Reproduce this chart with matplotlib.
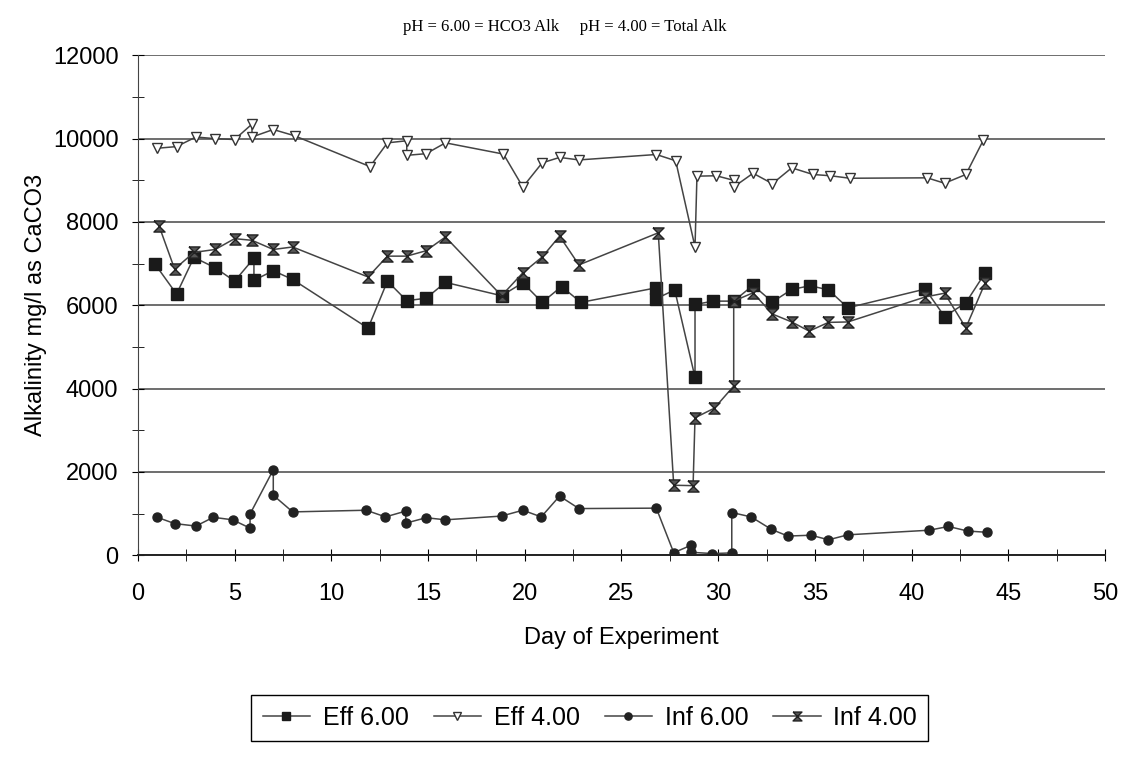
#Alkalinity over the experiment
#plots influent and effluent alkalinity at pH 6.00 and pH 4.00 end points
import matplotlib
matplotlib.use('Agg')
import matplotlib.pyplot as plt
from matplotlib.ticker import MultipleLocator

plt.rcParams['font.family'] = ['Liberation Sans', 'DejaVu Sans']

#data
eff6_days = [0.9, 2.0, 2.9, 4.0, 5.0, 6.0, 6.0, 7.0, 8.0, 11.9, 12.9, 13.9, 14.9, 15.9,
             18.8, 19.9, 20.9, 21.9, 22.9, 26.8, 26.8, 27.75, 28.8, 28.8, 29.75, 30.8,
             31.8, 32.8, 33.8, 34.75, 35.7, 36.7, 40.7, 41.7, 42.8, 43.8]
eff6_vals = [6980, 6270, 7150, 6900, 6580, 7130, 6600, 6830, 6620, 5450, 6580, 6110, 6170, 6550,
             6230, 6540, 6070, 6450, 6070, 6420, 6160, 6370, 4270, 6020, 6100, 6100,
             6480, 6080, 6380, 6470, 6370, 5940, 6390, 5730, 6060, 6780]

eff4_days = [1.0, 2.0, 3.0, 4.0, 5.0, 5.9, 5.9, 7.0, 8.1, 12.0, 12.9, 13.9, 13.9, 14.9, 15.9,
             18.9, 19.9, 20.9, 21.8, 22.8, 26.8, 27.8, 28.8, 28.9, 29.9, 30.8, 30.8,
             31.8, 32.8, 33.8, 34.9, 35.8, 36.8, 40.8, 41.7, 42.8, 43.7]
eff4_vals = [9770, 9810, 10040, 10000, 9980, 10350, 10040, 10220, 10070, 9330, 9900, 9950, 9600,
             9640, 9900, 9630, 8840, 9420, 9550, 9490, 9620, 9470, 7400, 9100, 9110, 9000,
             8840, 9170, 8920, 9300, 9140, 9110, 9050, 9060, 8930, 9140, 9960]

inf6_days = [1.0, 1.9, 3.0, 3.9, 4.9, 5.8, 5.8, 7.0, 7.0, 8.0, 11.8, 12.8, 13.85, 13.85,
             14.9, 15.9, 18.8, 19.9, 20.85, 21.8, 22.8, 26.8, 27.7, 28.6, 28.6, 29.7,
             30.7, 30.7, 31.7, 32.75, 33.6, 34.8, 35.7, 36.7, 40.9, 41.9, 42.9, 43.9]
inf6_vals = [910, 760, 700, 910, 850, 650, 990, 2050, 1440, 1040, 1080, 920, 1060, 770,
             900, 850, 940, 1080, 920, 1420, 1120, 1130, 60, 240, 70, 40,
             55, 1025, 920, 620, 460, 480, 370, 490, 600, 690, 580, 550]

inf4_days = [1.1, 1.9, 2.9, 4.0, 5.0, 5.9, 7.0, 8.0, 11.9, 12.9, 13.9, 14.9, 15.9, 18.8,
             19.9, 20.9, 21.8, 22.8, 26.9, 27.7, 28.7, 28.8, 29.8, 30.8, 30.8, 31.8,
             32.8, 33.8, 34.7, 35.7, 36.7, 40.7, 41.7, 42.8, 43.8]
inf4_vals = [7900, 6870, 7270, 7340, 7600, 7560, 7340, 7400, 6680, 7180, 7180, 7310, 7640, 6230,
             6780, 7160, 7660, 6970, 7740, 1680, 1670, 3300, 3530, 4060, 6100, 6300,
             5790, 5600, 5380, 5590, 5600, 6200, 6290, 5460, 6540]

#hourglass shaped marker
hourglass = [(-1, 1), (1, 1), (-1, -1), (1, -1), (-1, 1)]

fig = plt.figure(figsize=(11.3, 7.69), dpi=100)
ax = fig.add_axes([0.122, 0.278, 0.856, 0.650])

line_col = '#444444'
ax.plot(eff6_days, eff6_vals, color=line_col, lw=1.1, marker='s', markersize=8,
        markerfacecolor='#1a1a1a', markeredgecolor='#1a1a1a', label='Eff 6.00', zorder=4)
ax.plot(eff4_days, eff4_vals, color=line_col, lw=1.1, marker='v', markersize=7,
        markerfacecolor='white', markeredgecolor='#333333', label='Eff 4.00', zorder=4)
ax.plot(inf6_days, inf6_vals, color=line_col, lw=1.1, marker='o', markersize=6.5,
        markerfacecolor='#222222', markeredgecolor='#222222', label='Inf 6.00', zorder=4)
ax.plot(inf4_days, inf4_vals, color=line_col, lw=1.1, marker=hourglass, markersize=8,
        markerfacecolor='#555555', markeredgecolor='#222222', label='Inf 4.00', zorder=4)

#axes limits and ticks
ax.set_xlim(0, 50)
ax.set_ylim(0, 12000)
ax.xaxis.set_major_locator(MultipleLocator(5))
ax.xaxis.set_minor_locator(MultipleLocator(2.5))
ax.yaxis.set_major_locator(MultipleLocator(2000))
ax.yaxis.set_minor_locator(MultipleLocator(1000))
ax.tick_params(axis='x', which='both', direction='inout', length=8, pad=16, labelsize=17)
ax.tick_params(axis='y', which='both', direction='inout', length=8, pad=10, labelsize=17)

#grid
ax.grid(True, axis='y', color='#555555', lw=1.2)
ax.set_axisbelow(True)
for side in ['top', 'right']:
    ax.spines[side].set_visible(False)
ax.spines['left'].set_color('#444444')
ax.spines['bottom'].set_color('#222222')
ax.spines['bottom'].set_linewidth(1.4)

#labels
ax.set_xlabel('Day of Experiment', fontsize=17, labelpad=16)
ax.set_ylabel('Alkalinity mg/l as CaCO3', fontsize=17, labelpad=4)
fig.text(0.50, 0.965, 'pH = 6.00 = HCO3 Alk     pH = 4.00 = Total Alk',
         ha='center', va='center', fontsize=12, family='Liberation Serif')

#legend below the chart
fig.legend(loc='center', bbox_to_anchor=(0.522, 0.066), ncol=4, fontsize=18,
           frameon=True, fancybox=False, edgecolor='black', framealpha=1,
           handlelength=1.9, columnspacing=1.0, handletextpad=0.5, borderpad=0.45,
           markerscale=0.8)

plt.savefig('out.png', dpi=100)
